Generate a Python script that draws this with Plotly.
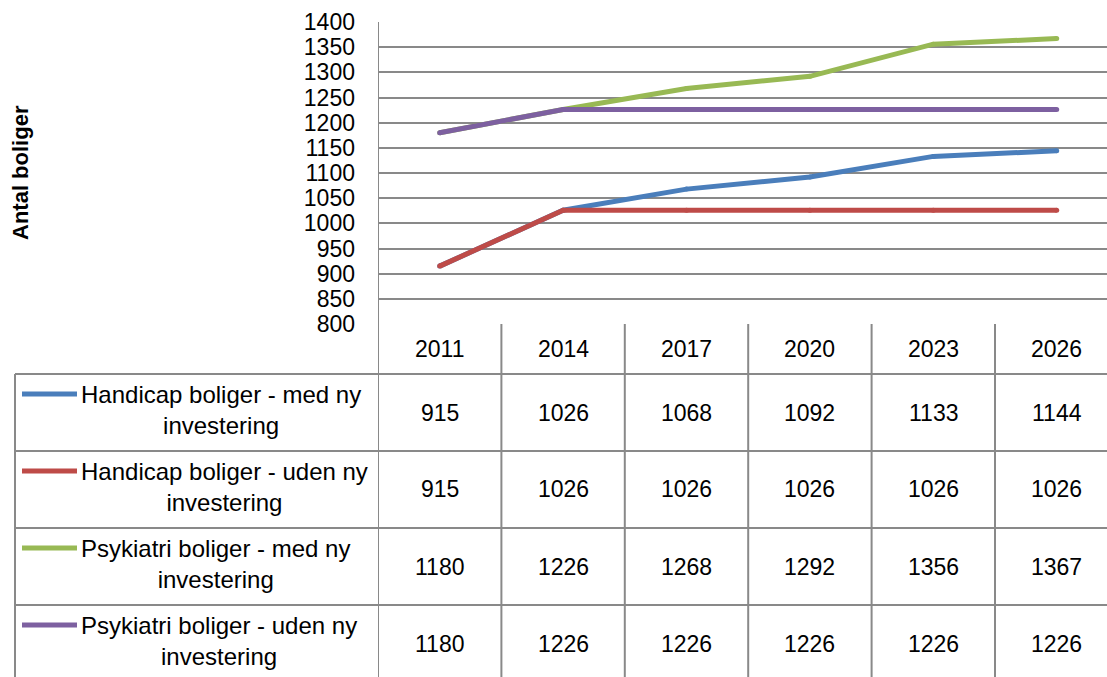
import plotly.graph_objects as go

# data
years = ["2011", "2014", "2017", "2020", "2023", "2026"]
series_names = [
    "Handicap boliger - med ny<br>investering",
    "Handicap boliger - uden ny<br>investering",
    "Psykiatri boliger - med ny<br>investering",
    "Psykiatri boliger - uden ny<br>investering",
]
handicap_med = [915, 1026, 1068, 1092, 1133, 1144]
handicap_uden = [915, 1026, 1026, 1026, 1026, 1026]
psyk_med = [1180, 1226, 1268, 1292, 1356, 1367]
psyk_uden = [1180, 1226, 1226, 1226, 1226, 1226]
colors = ["#4A7EBB", "#BE4B48", "#98B954", "#7D60A0"]

W, H = 1107, 677
FONT = "Liberation Sans"
GRID = "#898989"


def px(x):
    return x / W


def py(y):
    return 1 - y / H


all_series = [handicap_med, handicap_uden, psyk_med, psyk_uden]
xs = list(range(len(years)))

fig = go.Figure()

for name, vals, col in zip(series_names, all_series, colors):
    fig.add_trace(go.Scatter(x=xs, y=vals, mode='lines+markers', name=name,
                             line=dict(color=col, width=5),
                             marker=dict(color=col, size=5, line=dict(width=0)),
                             showlegend=False))

# table geometry (px)
col_w = 123.4
row_tops = [374, 451, 528, 605]
row_h = 77
shapes = []
# horizontal table lines
for y in row_tops:
    shapes.append(dict(type='line', xref='paper', yref='paper', x0=px(15), x1=1,
                       y0=py(y), y1=py(y), line=dict(color=GRID, width=2)))
# left border
shapes.append(dict(type='line', xref='paper', yref='paper', x0=px(15), x1=px(15),
                   y0=py(374), y1=0, line=dict(color=GRID, width=2)))
# axis line + column borders
shapes.append(dict(type='line', xref='x', yref='paper', x0=-0.5, x1=-0.5,
                   y0=py(22), y1=0, line=dict(color=GRID, width=2)))
for k in range(len(years) - 1):
    shapes.append(dict(type='line', xref='x', yref='paper', x0=k + 0.5, x1=k + 0.5,
                       y0=py(324), y1=0, line=dict(color=GRID, width=2)))

annotations = []
# header years
for i, yr in enumerate(years):
    annotations.append(dict(x=i, y=py(349), xref='x', yref='paper', text=yr,
                            xanchor='center', yanchor='middle',
                            showarrow=False, font=dict(size=23, color='black', family=FONT)))
# rows
for r, (name, vals, col) in enumerate(zip(series_names, all_series, colors)):
    top = row_tops[r]
    mid = top + row_h / 2
    for i, v in enumerate(vals):
        annotations.append(dict(x=i, y=py(mid), xref='x', yref='paper', text=str(v),
                                xanchor='center', yanchor='middle',
                                showarrow=False, font=dict(size=23, color='black', family=FONT)))
    shapes.append(dict(type='line', xref='paper', yref='paper', x0=px(22), x1=px(77),
                       y0=py(top + 20), y1=py(top + 20), line=dict(color=col, width=5)))
    annotations.append(dict(x=px(79), y=py(top + 5), xref='paper', yref='paper', text=name,
                            xanchor='left', yanchor='top', align='center', showarrow=False,
                            font=dict(size=24, color='black', family=FONT)))

# y axis title
annotations.append(dict(x=px(20), y=py(173), xref='paper', yref='paper', text="<b>Antal boliger</b>",
                        xanchor='center', yanchor='middle',
                        textangle=-90, showarrow=False, font=dict(size=22, color='black', family=FONT)))

fig.update_layout(
    width=W, height=H,
    margin=dict(l=0, r=0, t=0, b=0, autoexpand=False),
    paper_bgcolor='white', plot_bgcolor='white',
    xaxis=dict(domain=[px(378), 1], range=[-0.5, -0.5 + (W - 378) / col_w], automargin=False,
               showgrid=False, zeroline=False, showticklabels=False, showline=False),
    yaxis=dict(domain=[py(324), py(22)], range=[800, 1400], dtick=50, automargin=False,
               showgrid=True, gridcolor=GRID, gridwidth=2, zeroline=False,
               showline=False, ticks='', ticklabelstandoff=22,
               tickfont=dict(size=23, color='black', family=FONT)),
    shapes=shapes,
    annotations=annotations,
    showlegend=False,
)

pin = """
var gd = document.getElementById('{plot_id}');
gd.style.position = 'fixed'; gd.style.top = '0px'; gd.style.left = '0px';
document.body.style.margin = '0';
document.body.style.overflow = 'hidden';
document.documentElement.style.overflow = 'hidden';
"""
fig.write_html("out.html", config={'displayModeBar': False}, post_script=pin)
